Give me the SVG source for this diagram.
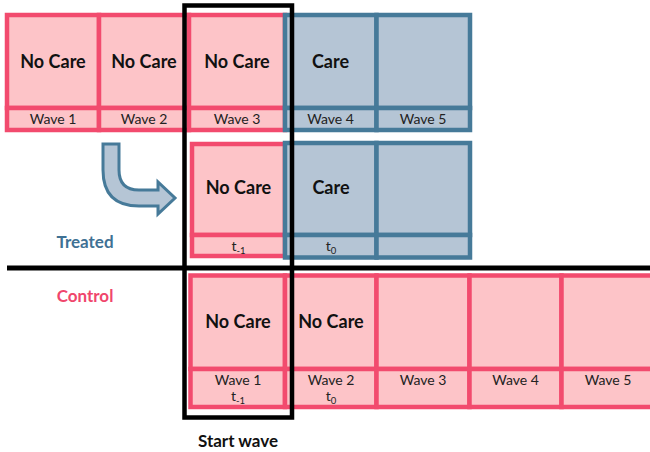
<svg xmlns="http://www.w3.org/2000/svg" width="650" height="452" viewBox="0 0 650 452">
  <style>
    .pk { fill: #fdc4c8; stroke: #f24b6e; stroke-width: 4.5; }
    .bl { fill: #b5c5d5; stroke: #467a99; stroke-width: 4.5; }
    .big { font-family: Lato, "Liberation Sans", sans-serif; font-weight: bold; font-size: 18px; fill: #111; text-anchor: middle; }
    .sm { font-family: Lato, "Liberation Sans", sans-serif; font-size: 14px; fill: #222; text-anchor: middle; }
    .sub { font-size: 9.5px; }
    .lbl { font-family: Lato, "Liberation Sans", sans-serif; font-weight: bold; font-size: 17px; text-anchor: middle; }
  </style>
  <rect width="650" height="452" fill="#fff"/>

  <!-- Treated group, full timeline -->
  <g id="treated-wave1">
    <rect class="pk" x="7" y="15" width="92" height="93"/>
    <rect class="pk" x="7" y="108" width="92" height="22"/>
    <text class="big" x="53" y="68">No Care</text>
    <text class="sm" x="53" y="124">Wave 1</text>
  </g>
  <g id="treated-wave2">
    <rect class="pk" x="99" y="15" width="90" height="93"/>
    <rect class="pk" x="99" y="108" width="90" height="22"/>
    <text class="big" x="144" y="68">No Care</text>
    <text class="sm" x="144" y="124">Wave 2</text>
  </g>
  <g id="treated-wave3">
    <rect class="pk" x="189" y="15" width="96" height="93"/>
    <rect class="pk" x="189" y="108" width="96" height="22"/>
    <text class="big" x="237" y="68">No Care</text>
    <text class="sm" x="237" y="124">Wave 3</text>
  </g>
  <g id="treated-wave4">
    <rect class="bl" x="285" y="15" width="91.5" height="93"/>
    <rect class="bl" x="285" y="108" width="91.5" height="22"/>
    <text class="big" x="330.5" y="68">Care</text>
    <text class="sm" x="330.5" y="124">Wave 4</text>
  </g>
  <g id="treated-wave5">
    <rect class="bl" x="376.5" y="15" width="93.5" height="93"/>
    <rect class="bl" x="376.5" y="108" width="93.5" height="22"/>
    <text class="sm" x="423" y="124">Wave 5</text>
  </g>

  <!-- Treated group, aligned on start wave -->
  <g id="aligned-t-1">
    <rect class="pk" x="192" y="144" width="93" height="91"/>
    <rect class="pk" x="192" y="235" width="93" height="21"/>
    <text class="big" x="238.5" y="194">No Care</text>
    <text class="sm" x="238.5" y="251">t<tspan class="sub" dy="3">-1</tspan></text>
  </g>
  <g id="aligned-t0">
    <rect class="bl" x="285" y="143" width="91.5" height="92"/>
    <rect class="bl" x="285" y="235" width="91.5" height="22.5"/>
    <text class="big" x="331" y="194">Care</text>
    <text class="sm" x="331" y="251">t<tspan class="sub" dy="3">0</tspan></text>
  </g>
  <g id="aligned-t1">
    <rect class="bl" x="376.5" y="143" width="93.5" height="92"/>
    <rect class="bl" x="376.5" y="235" width="93.5" height="22.5"/>
  </g>

  <!-- Control group -->
  <g id="control-wave1">
    <rect class="pk" x="190.5" y="275.5" width="94.5" height="93.5"/>
    <rect class="pk" x="190.5" y="369" width="94.5" height="38"/>
    <text class="big" x="238" y="328">No Care</text>
    <text class="sm" x="238" y="385">Wave 1</text>
    <text class="sm" x="238" y="401">t<tspan class="sub" dy="3">-1</tspan></text>
  </g>
  <g id="control-wave2">
    <rect class="pk" x="285" y="275.5" width="91.5" height="93.5"/>
    <rect class="pk" x="285" y="369" width="91.5" height="38"/>
    <text class="big" x="331" y="328">No Care</text>
    <text class="sm" x="331" y="385">Wave 2</text>
    <text class="sm" x="331" y="401">t<tspan class="sub" dy="3">0</tspan></text>
  </g>
  <g id="control-wave3">
    <rect class="pk" x="376.5" y="275.5" width="93" height="93.5"/>
    <rect class="pk" x="376.5" y="369" width="93" height="38"/>
    <text class="sm" x="423" y="385">Wave 3</text>
  </g>
  <g id="control-wave4">
    <rect class="pk" x="469.5" y="275.5" width="92" height="93.5"/>
    <rect class="pk" x="469.5" y="369" width="92" height="38"/>
    <text class="sm" x="515.5" y="385">Wave 4</text>
  </g>
  <g id="control-wave5">
    <rect class="pk" x="561.5" y="275.5" width="93" height="93.5"/>
    <rect class="pk" x="561.5" y="369" width="93" height="38"/>
    <text class="sm" x="608" y="385">Wave 5</text>
  </g>

  <!-- Group labels -->
  <g id="label-treated">
    <text class="lbl" x="85" y="248" fill="#3f7194">Treated</text>
  </g>
  <g id="label-control">
    <text class="lbl" x="85" y="302" fill="#f0466c">Control</text>
  </g>

  <!-- Connectors: realignment arrow, group separator, start-wave frame -->
  <g id="connectors">
    <path d="M103,144 H119 V170 Q119,190 139,190 H158 V182 L175,198 L158,214 V206 H139 Q103,206 103,170 Z"
          fill="#b5c5d5" stroke="#467a99" stroke-width="3" stroke-linejoin="miter"/>
    <line x1="7" y1="268" x2="650" y2="268" stroke="#000" stroke-width="5"/>
    <rect x="184.5" y="5.5" width="107.5" height="412" fill="none" stroke="#000" stroke-width="4.5"/>
  </g>

  <g id="label-start-wave">
    <text class="lbl" x="238" y="447" fill="#111" font-size="18.5">Start wave</text>
  </g>
</svg>
